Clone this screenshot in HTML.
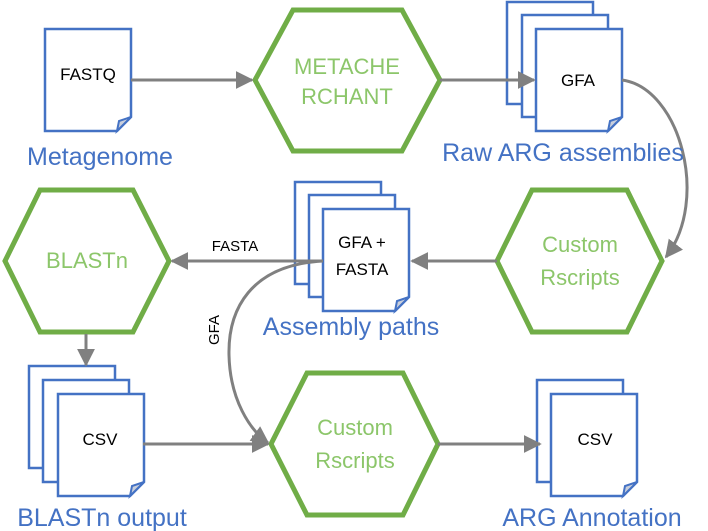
<!DOCTYPE html>
<html><head><meta charset="utf-8"><style>html,body{margin:0;padding:0;background:#fff}svg{display:block}</style></head>
<body>
<svg width="708" height="531" viewBox="0 0 708 531" xmlns="http://www.w3.org/2000/svg" font-family="'Liberation Sans', sans-serif">
<defs>
<marker id="a" viewBox="0 0 10 10" refX="9" refY="5" markerWidth="6" markerHeight="6" orient="auto"><path d="M0,0 L10,5 L0,10 z" fill="#808080"/></marker>
<g id="doc"><path d="M0,0 H86 V88 L72,102 H0 Z" fill="#fff" stroke="#4472C4" stroke-width="2.5"/><path d="M72,102 L74,92 L86,88 Z" fill="#c9cfdc" stroke="#4472C4" stroke-width="2"/></g>
<rect id="bk" width="86" height="102" fill="#fff" stroke="#4472C4" stroke-width="2.5"/>
</defs>
<g fill="#fff" stroke="#70AD47" stroke-width="5">
<polygon points="255,80 293,10 402,10 440,80 402,151 293,151"/>
<polygon points="497,261 532,190 627,190 662,261 627,332 532,332"/>
<polygon points="5,261 40,190 133,190 169,261 133,332 40,332"/>
<polygon points="271,444 307,373 403,373 438,444 403,515 307,515"/>
</g>
<g font-size="22" fill="#8cc66a" text-anchor="middle">
<text x="347" y="74">METACHE</text><text x="347" y="104">RCHANT</text>
<text x="580" y="252">Custom</text><text x="580" y="285">Rscripts</text>
<text x="87" y="268">BLASTn</text>
<text x="355" y="435">Custom</text><text x="355" y="468">Rscripts</text>
</g>
<use href="#doc" x="45" y="29"/>
<use href="#bk" x="507" y="2"/><use href="#bk" x="522" y="15"/><use href="#doc" x="536" y="29"/>
<use href="#bk" x="295" y="182"/><use href="#bk" x="309" y="195"/><use href="#doc" x="323" y="209"/>
<use href="#bk" x="29" y="366"/><use href="#bk" x="43" y="380"/><use href="#doc" x="58" y="394"/>
<use href="#bk" x="537" y="380"/><use href="#doc" x="551" y="394"/>
<g stroke="#808080" stroke-width="3" fill="none">
<line x1="131" y1="80" x2="252" y2="80" marker-end="url(#a)"/>
<line x1="440" y1="80" x2="534" y2="80" marker-end="url(#a)"/>
<path d="M622,80 C680,88 710,200 666,257" marker-end="url(#a)"/>
<line x1="497" y1="261" x2="412" y2="261" marker-end="url(#a)"/>
<line x1="323" y1="261" x2="172" y2="261" marker-end="url(#a)"/>
<path d="M323,261 C250,265 228,310 229,355 C230,400 250,430 268,443" marker-end="url(#a)"/>
<line x1="86" y1="334" x2="86" y2="365" marker-end="url(#a)"/>
<line x1="143" y1="444" x2="268" y2="444" marker-end="url(#a)"/>
<line x1="438" y1="444" x2="540" y2="444" marker-end="url(#a)"/>
</g>
<g font-size="17" fill="#000" text-anchor="middle">
<text x="88" y="80">FASTQ</text>
<text x="578" y="86">GFA</text>
<text x="362" y="248">GFA +</text><text x="362" y="275">FASTA</text>
<text x="100" y="445">CSV</text>
<text x="595" y="445">CSV</text>
<text x="235" y="251" font-size="15">FASTA</text>
<text transform="translate(219,330) rotate(-90)" font-size="15">GFA</text>
</g>
<g font-size="25" fill="#4472C4" text-anchor="middle">
<text x="100" y="165">Metagenome</text>
<text x="563" y="161">Raw ARG assemblies</text>
<text x="351" y="335">Assembly paths</text>
<text x="102" y="526">BLASTn output</text>
<text x="592" y="526">ARG Annotation</text>
</g>
</svg>
</body></html>
